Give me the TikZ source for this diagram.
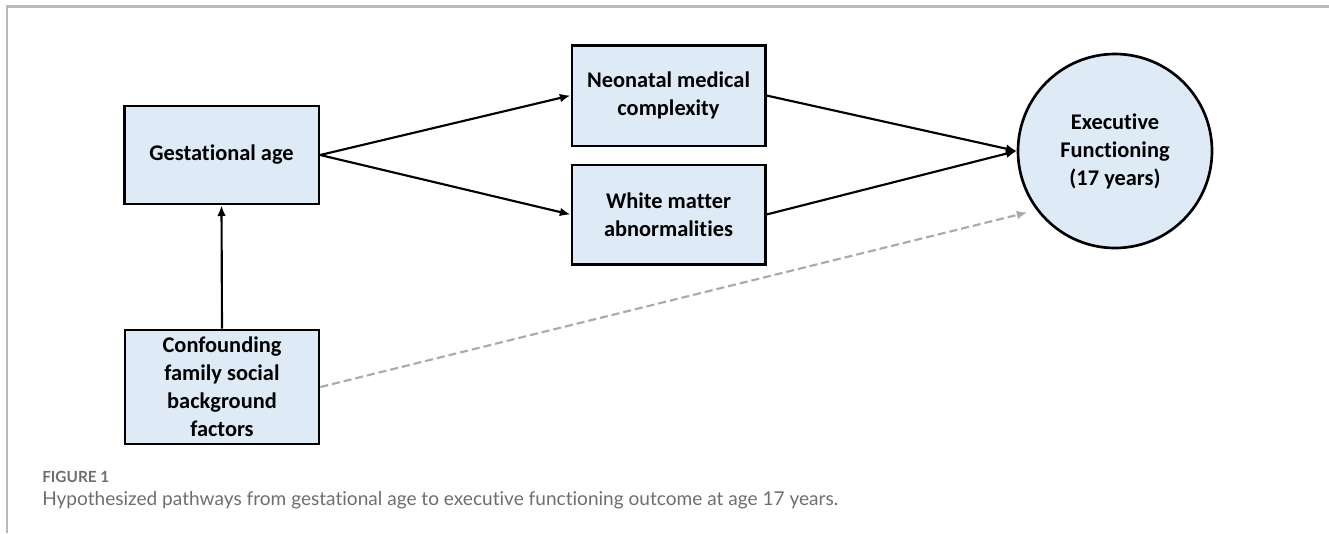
\documentclass[tikz,border=0pt]{standalone}
\usepackage{fontspec}
\setmainfont[RawFeature={-liga;-clig;-dlig;-calt}]{Carlito}
\newfontfamily\capfont[RawFeature={-liga;-clig;-dlig;-calt}]{Lato}
\usepackage{tikz}
\usetikzlibrary{arrows.meta,shapes}

\definecolor{boxblue}{RGB}{222,235,247}
\definecolor{dashgray}{RGB}{170,170,170}
\definecolor{capgray}{RGB}{110,110,110}
\definecolor{framegray}{RGB}{185,185,185}

\tikzset{
  varbox/.style={draw=black, line width=2pt, fill=boxblue, align=center,
    font=\bfseries\fontsize{16.8pt}{21pt}\selectfont, inner sep=2pt},
  path/.style={draw=black, line width=1.6pt, -{Latex[length=8pt,width=6.5pt]}},
}

\begin{document}
\begin{tikzpicture}[x=0.75pt,y=0.75pt,yscale=-1,xscale=1]
  \useasboundingbox (0,0) rectangle (1329,533);
  %Frame lines
  \draw [framegray, line width=1.8pt] (7,533) -- (7,6.5) -- (1329,6.5);

  %Boxes
  \node [varbox, minimum width=146pt, minimum height=73.5pt] (ga) at (221.5,155) {Gestational age};
  \node [varbox, minimum width=145pt, minimum height=75.5pt] (nmc) at (668.5,95.5) {Neonatal medical\\complexity};
  \node [varbox, minimum width=145pt, minimum height=74.5pt] (wma) at (668.5,214.5) {White matter\\abnormalities};
  \node [varbox, minimum width=145.5pt, minimum height=85.5pt] (cf) at (222,387) {Confounding\\family social\\background\\factors};
  %Outcome
  \node [varbox, circle, minimum size=145.5pt] (ef) at (1115,151) {Executive\\Functioning\\(17 years)};

  %Paths
  \draw [path] (ga.east) -- (nmc.west);
  \draw [path] (ga.east) -- (wma.west);
  \draw [path] (nmc.east) -- (ef.west);
  \draw [path] (wma.east) -- (ef.west);
  \draw [path] (cf.north) -- (ga.south);
  \draw [path, dashgray, dash pattern=on 6pt off 3pt, shorten >=7pt] (cf.east) -- (ef.217);

  % Caption
  \node [anchor=base west, inner sep=0pt, text=capgray, font=\capfont\bfseries\fontsize{11.5pt}{13pt}\selectfont] (fig) at (42,482) {FIGURE 1};
  \node [anchor=base west, inner sep=0pt, text=capgray, font=\capfont\fontsize{14.3pt}{16pt}\selectfont] (cap) at (42,505) {Hypothesized pathways from gestational age to executive functioning outcome at age 17 years.};
\end{tikzpicture}
\end{document}
